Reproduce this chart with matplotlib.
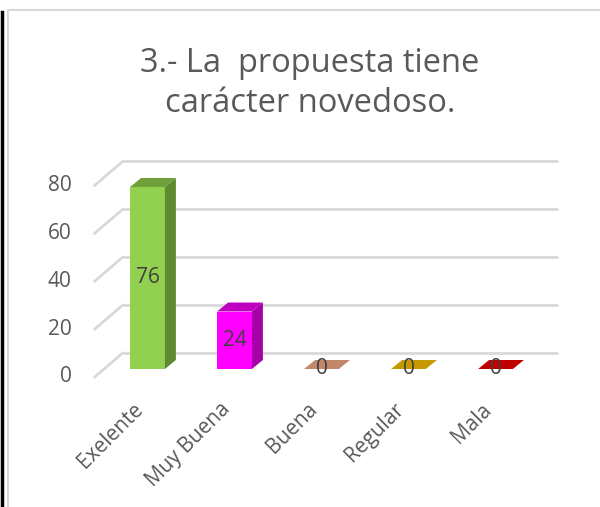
import matplotlib
matplotlib.use("Agg")
import matplotlib.pyplot as plt
from matplotlib.patches import Polygon
from matplotlib.lines import Line2D

# data
categories = ["Exelente", "Muy Buena", "Buena", "Regular", "Mala"]
values = [76, 24, 0, 0, 0]
y_ticks = [0, 20, 40, 60, 80]
title = "3.- La  propuesta tiene\ncarácter novedoso."

front_colors = ["#92D050", "#FF00FF", "#C0876A", "#C59A00", "#C00000"]
side_colors = ["#5F8A30", "#A800A8", "#A06A50", "#A07D00", "#A00000"]
top_colors = ["#6F9F3A", "#C000C0", "#C0876A", "#C59A00", "#C00000"]

FONT = "Open Sans"
TEXT = "#595959"
GRID = "#D9D9D9"

# pixel geometry of the 3d look (px per category / px per unit)
W, H = 600, 507
PX_CAT = 87.0
PX_VAL = 2.395
X0_PX, Y0_PX = 147.5, 369.0  # centre of first bar front, value 0

# depth offsets in data units
DX_BAR, DY_BAR = 11 / PX_CAT, 9 / PX_VAL
DX_WALL, DY_WALL = 18.7 / PX_CAT, 16 / PX_VAL
DX_FRONT, DY_FRONT = -9.3 / PX_CAT, -8 / PX_VAL
HALF = 0.2

fig = plt.figure(figsize=(W / 100, H / 100), dpi=100)
ax = fig.add_axes([0, 0, 1, 1])
ax.set_xlim(-X0_PX / PX_CAT, (W - X0_PX) / PX_CAT)
ax.set_ylim(-(H - Y0_PX) / PX_VAL, Y0_PX / PX_VAL)
ax.axis("off")

x_left, x_right = -0.5, 4.5

# back wall gridlines + left floor diagonals
for v in y_ticks:
    ax.plot([x_left + DX_WALL, x_right + DX_WALL], [v + DY_WALL, v + DY_WALL],
            color=GRID, lw=2, solid_capstyle="butt", zorder=1)
    ax.plot([x_left + DX_FRONT, x_left + DX_WALL], [v + DY_FRONT, v + DY_WALL],
            color=GRID, lw=2, zorder=1)
    ax.text(x_left + DX_FRONT - 23 / PX_CAT, v + DY_FRONT, str(v),
            ha="right", va="center", fontsize=15, color=TEXT, family=FONT)

# bars
for i, (v, fc, sc, tc) in enumerate(zip(values, front_colors, side_colors, top_colors)):
    l, r = i - HALF, i + HALF
    if v > 0:
        ax.bar(i, v, width=2 * HALF, color=fc, zorder=3)
        ax.add_patch(Polygon([(r, 0), (r + DX_BAR, DY_BAR), (r + DX_BAR, v + DY_BAR), (r, v)],
                             closed=True, facecolor=sc, edgecolor="none", zorder=3))
    ax.add_patch(Polygon([(l, v), (r, v), (r + DX_BAR, v + DY_BAR), (l + DX_BAR, v + DY_BAR)],
                         closed=True, facecolor=tc, edgecolor="none", zorder=3))
    ax.text(i, v / 2, str(v), ha="center", va="center", fontsize=15,
            color="#404040", family=FONT, zorder=4)
    ax.text(i - 0.17, -12.5, categories[i], rotation=45, rotation_mode="anchor",
            ha="right", va="top", fontsize=15, color=TEXT, family=FONT)

fig.text(310 / W, 1 - 84 / H, title, ha="center", va="center", fontsize=23.5,
         color=TEXT, family=FONT, linespacing=1.28)

# chart frame and the black edge on the left
fig.add_artist(Line2D([8 / W, 8 / W, 1], [0, 1 - 10 / H, 1 - 10 / H],
                      transform=fig.transFigure, color="#D9D9D9", lw=1.5))
fig.add_artist(Line2D([1.5 / W, 1.5 / W], [0, 1 - 12 / H],
                      transform=fig.transFigure, color="black", lw=2.5))

fig.savefig("out.png", dpi=100)
